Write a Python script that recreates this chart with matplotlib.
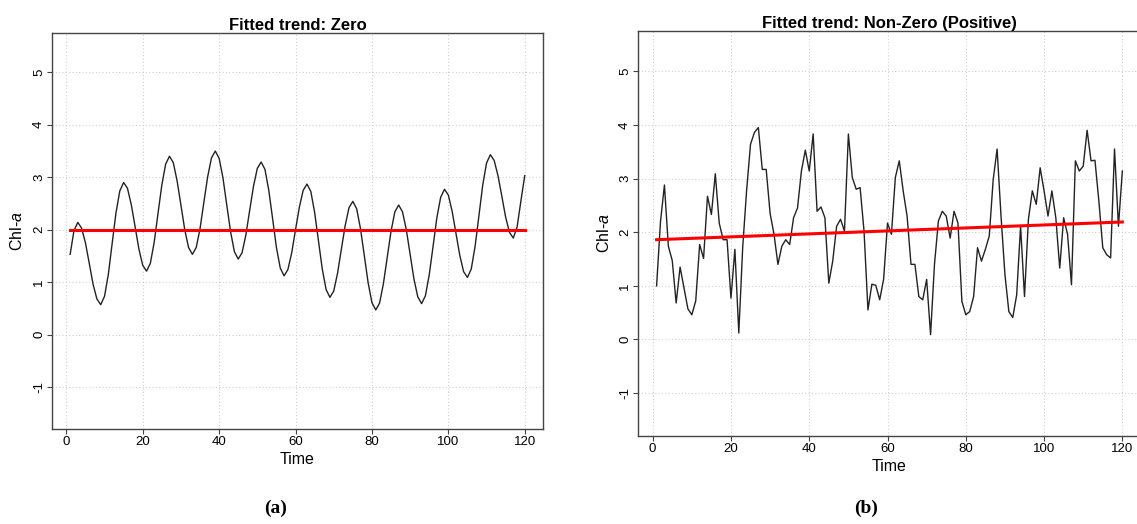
import numpy as np
import matplotlib
matplotlib.use("Agg")
import matplotlib.pyplot as plt

plt.rcParams['font.family'] = ['Liberation Sans', 'DejaVu Sans']
plt.rcParams['mathtext.fontset'] = 'custom'
plt.rcParams['mathtext.rm'] = 'Liberation Sans'
plt.rcParams['mathtext.it'] = 'Liberation Sans:italic'
plt.rcParams['axes.unicode_minus'] = False

# monthly index
time = np.arange(1, 121)

# panel (a): seasonal series, no trend
chl_a_zero = [
    1.53, 1.98, 2.14, 2.03, 1.75, 1.36, 0.96, 0.68, 0.57, 0.73, 1.15, 1.74,
    2.32, 2.74, 2.90, 2.79, 2.48, 2.06, 1.63, 1.32, 1.21, 1.36, 1.76, 2.31,
    2.85, 3.25, 3.40, 3.28, 2.93, 2.47, 2.00, 1.66, 1.53, 1.66, 2.02, 2.52,
    3.01, 3.37, 3.50, 3.36, 2.99, 2.47, 1.96, 1.58, 1.44, 1.56, 1.90, 2.37,
    2.83, 3.17, 3.29, 3.15, 2.75, 2.21, 1.66, 1.27, 1.12, 1.24, 1.56, 2.00,
    2.43, 2.75, 2.87, 2.73, 2.33, 1.79, 1.25, 0.86, 0.71, 0.83, 1.17, 1.63,
    2.08, 2.42, 2.54, 2.40, 2.02, 1.51, 0.99, 0.61, 0.47, 0.60, 0.97, 1.47,
    1.97, 2.34, 2.47, 2.34, 2.00, 1.53, 1.06, 0.72, 0.59, 0.74, 1.14, 1.68,
    2.23, 2.62, 2.77, 2.66, 2.35, 1.93, 1.51, 1.20, 1.09, 1.25, 1.68, 2.26,
    2.85, 3.27, 3.43, 3.32, 3.03, 2.64, 2.24, 1.95, 1.84, 2.05, 2.55, 3.03,
]
trend_zero = [2.0, 2.0]  # fitted trend at t=1 and t=120

# panel (b): noisy series, positive trend
chl_a_pos = [
    1.00, 2.20, 2.88, 1.74, 1.47, 0.68, 1.35, 0.96, 0.57, 0.46, 0.72, 1.77,
    1.51, 2.67, 2.33, 3.09, 2.17, 1.86, 1.86, 0.77, 1.68, 0.12, 1.72, 2.78,
    3.64, 3.86, 3.95, 3.17, 3.17, 2.35, 1.96, 1.40, 1.74, 1.86, 1.77, 2.27,
    2.45, 3.14, 3.53, 3.14, 3.83, 2.39, 2.47, 2.27, 1.05, 1.46, 2.11, 2.24,
    2.02, 3.83, 3.02, 2.80, 2.83, 2.02, 0.55, 1.03, 1.01, 0.74, 1.12, 2.17,
    1.96, 3.02, 3.33, 2.77, 2.30, 1.40, 1.40, 0.80, 0.74, 1.12, 0.09, 1.40,
    2.21, 2.39, 2.30, 1.89, 2.39, 2.17, 0.71, 0.46, 0.52, 0.80, 1.71, 1.46,
    1.68, 1.93, 2.98, 3.55, 2.30, 1.21, 0.52, 0.41, 0.83, 2.11, 0.80, 2.24,
    2.77, 2.52, 3.20, 2.77, 2.30, 2.77, 2.27, 1.33, 2.27, 1.96, 1.02, 3.33,
    3.14, 3.23, 3.90, 3.33, 3.34, 2.58, 1.71, 1.58, 1.52, 3.55, 2.11, 3.14,
]
trend_pos = [1.86, 2.19]

titles = ['Fitted trend: Zero', 'Fitted trend: Non-Zero (Positive)']
panel_tags = ['(a)', '(b)']


def style_axes(ax, title):
    ax.set_xlim(-3.76, 124.76)
    ax.set_ylim(-1.8, 5.75)
    ax.set_xticks(range(0, 121, 20))
    ax.set_yticks(range(-1, 6))
    ax.grid(True, color='#d0d0d0', linestyle=(0, (1, 2)), linewidth=0.8)
    ax.set_axisbelow(True)
    for s in ax.spines.values():
        s.set_color('#444444')
        s.set_linewidth(1.0)
    ax.tick_params(axis='both', length=3.5, width=0.8, color='#444444',
                   labelsize=9.5, pad=1.5)
    ax.tick_params(axis='y', labelrotation=90)
    for lbl in ax.get_yticklabels():
        lbl.set_va('center')
    ax.set_xlabel('Time', fontsize=11.5, labelpad=3)
    ax.set_title(title, fontsize=12, fontweight='bold', pad=2)


fig = plt.figure(figsize=(11.37, 5.24), dpi=100)
ax_a = fig.add_axes([0.0457, 0.1813, 0.4318, 0.7557])
ax_b = fig.add_axes([0.5611, 0.1679, 0.4424, 0.7729])

ax_a.plot(time, chl_a_zero, color='#222222', linewidth=1.0)
ax_a.plot([time[0], time[-1]], trend_zero, color='red', linewidth=2.2)
ax_b.plot(time, chl_a_pos, color='#222222', linewidth=1.0)
ax_b.plot([time[0], time[-1]], trend_pos, color='red', linewidth=2.2)

for ax, title in zip([ax_a, ax_b], titles):
    style_axes(ax, title)

fig.text(17 / 1137, 1 - 231 / 524, r'Chl-$\mathit{a}$', rotation=90,
         ha='center', va='center', fontsize=11.5)
fig.text(604 / 1137, 1 - 233 / 524, r'Chl-$\mathit{a}$', rotation=90,
         ha='center', va='center', fontsize=11.5)

fig.text(276 / 1137, 1 - 508 / 524, panel_tags[0], ha='center', va='center',
         fontsize=14, fontweight='bold', family='Liberation Serif')
fig.text(866 / 1137, 1 - 508 / 524, panel_tags[1], ha='center', va='center',
         fontsize=14, fontweight='bold', family='Liberation Serif')

fig.savefig('out.png', dpi=100)
